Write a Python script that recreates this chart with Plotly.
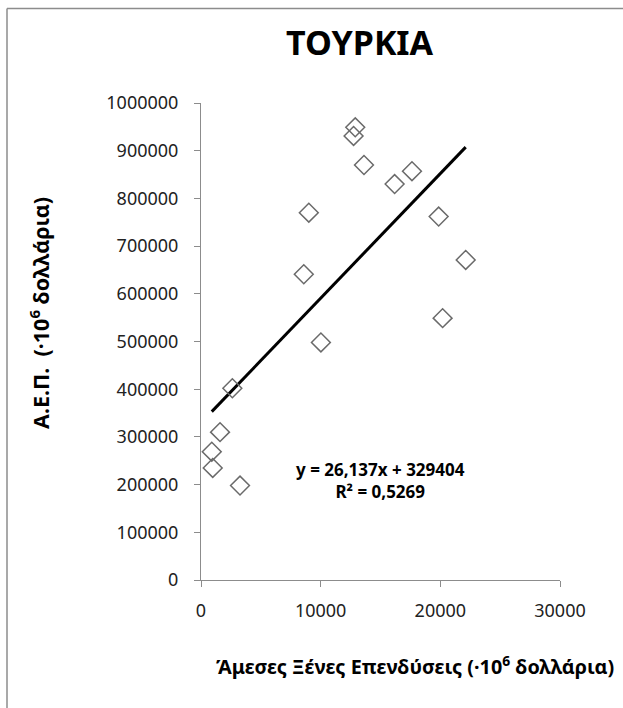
import plotly.graph_objects as go

# Data
fdi = [12890, 12750, 13620, 16180, 17630, 9010, 19860, 22120, 8590, 20190,
       10020, 2620, 1590, 900, 980, 3260]
gdp = [949000, 931000, 870000, 830000, 857000, 770000, 762000, 671000, 641000,
       549000, 498000, 402000, 310000, 269000, 235000, 198000]

slope = 26.137
intercept = 329404
eq_text = "y = 26,137x + 329404<br>R² = 0,5269"

x_ticks = [0, 10000, 20000, 30000]
y_ticks = [0, 100000, 200000, 300000, 400000, 500000, 600000, 700000, 800000, 900000, 1000000]

trend_x = [min(fdi), max(fdi)]
trend_y = [slope * v + intercept for v in trend_x]

FONT = "Noto Sans, Open Sans, DejaVu Sans, sans-serif"
AXIS_GRAY = "#8c8c8c"

fig = go.Figure()
fig.add_trace(go.Scatter(
    x=trend_x, y=trend_y, mode="lines",
    line=dict(color="black", width=3), hoverinfo="skip", showlegend=False))
fig.add_trace(go.Scatter(
    x=fdi, y=gdp, mode="markers",
    marker=dict(symbol="diamond-open", size=14.5, color="#6a6a6a",
                line=dict(width=1.5, color="#6a6a6a")),
    showlegend=False))

W, H = 623, 708
L, R, T, B = 201, 63, 103, 128
pw, ph = W - L - R, H - T - B

def px_x(px):
    return (px - L) / pw

def px_y(py):
    return (H - B - py) / ph

fig.update_layout(
    width=W, height=H,
    margin=dict(l=L, r=R, t=T, b=B, pad=0),
    paper_bgcolor="white", plot_bgcolor="white",
    font=dict(family=FONT, color="#222222"),
    xaxis=dict(range=[0, 30000], tickvals=x_ticks, ticktext=[str(v) for v in x_ticks],
               showgrid=False, zeroline=False, showline=True, linecolor=AXIS_GRAY, linewidth=1,
               ticks="outside", ticklen=6, tickcolor=AXIS_GRAY, tickfont=dict(size=18, family=FONT, color="#222222"),
               ticklabelstandoff=8),
    yaxis=dict(range=[0, 1000000], tickvals=y_ticks, ticktext=[str(v) for v in y_ticks],
               showgrid=False, zeroline=False, showline=True, linecolor=AXIS_GRAY, linewidth=1,
               ticks="outside", ticklen=6, tickcolor=AXIS_GRAY, tickfont=dict(size=18, family=FONT, color="#222222"),
               ticklabelstandoff=12),
    annotations=[
        dict(text="<b>ΤΟΥΡΚΙΑ</b>", xref="paper", yref="paper", x=px_x(360), y=px_y(42),
             xanchor="center", yanchor="middle", showarrow=False,
             font=dict(size=34, family=FONT, color="black")),
        dict(text="<b>Α.Ε.Π.  (·10<sup>6</sup> δολλάρια)</b>", xref="paper", yref="paper",
             x=px_x(39), y=px_y(313), xanchor="center", yanchor="middle", textangle=-90,
             showarrow=False, font=dict(size=21.5, family=FONT, color="black")),
        dict(text="<b>Άμεσες Ξένες Επενδύσεις (·10<sup>6</sup> δολλάρια)</b>", xref="paper", yref="paper",
             x=px_x(415), y=px_y(665), xanchor="center", yanchor="middle",
             showarrow=False, font=dict(size=19.8, family=FONT, color="black")),
        dict(text="<b>" + eq_text + "</b>", xref="paper", yref="paper",
             x=px_x(380), y=px_y(480), xanchor="center", yanchor="middle", align="center",
             showarrow=False, font=dict(size=17, family=FONT, color="black")),
    ],
    shapes=[
        dict(type="line", xref="paper", yref="paper", x0=px_x(7), x1=px_x(W + 5),
             y0=px_y(8.5), y1=px_y(8.5), line=dict(color="#8c8c8c", width=1.5)),
        dict(type="line", xref="paper", yref="paper", x0=px_x(7), x1=px_x(7),
             y0=px_y(8.5), y1=px_y(H + 5), line=dict(color="#8c8c8c", width=1.5)),
    ],
)

fig.write_html("out.html")
